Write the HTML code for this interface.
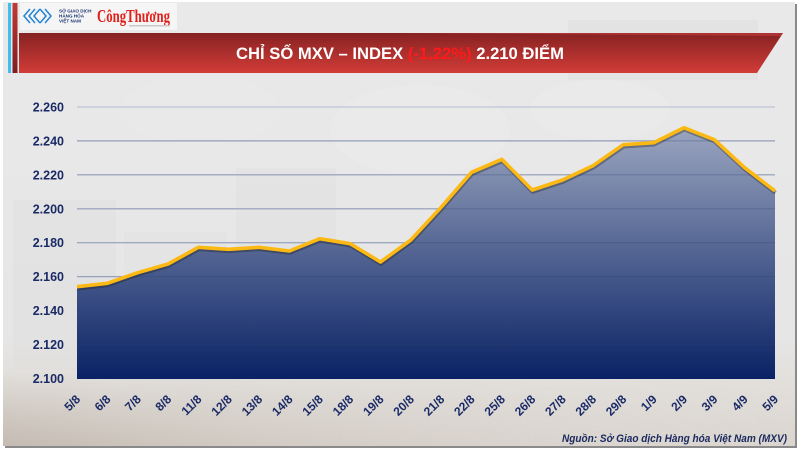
<!DOCTYPE html>
<html>
<head>
<meta charset="utf-8">
<style>
  html,body{margin:0;padding:0;background:#ffffff;}
  svg{display:block;}
  text{font-family:"Liberation Sans","DejaVu Sans",sans-serif;}
</style>
</head>
<body>
<svg width="800" height="450" viewBox="0 0 800 450" xmlns="http://www.w3.org/2000/svg">
  <defs>
    <linearGradient id="bg" x1="0" y1="0" x2="0" y2="1">
      <stop offset="0" stop-color="#e9e9e9"/>
      <stop offset="0.75" stop-color="#e6e6e6"/>
      <stop offset="0.86" stop-color="#e2dfdb"/>
      <stop offset="1" stop-color="#dbd5cf"/>
    </linearGradient>
    <linearGradient id="beans" x1="0" y1="0" x2="1" y2="0">
      <stop offset="0" stop-color="#b3a79c" stop-opacity="0.6"/>
      <stop offset="0.35" stop-color="#c6bdb4" stop-opacity="0.4"/>
      <stop offset="0.7" stop-color="#d6d2cd" stop-opacity="0.25"/>
      <stop offset="1" stop-color="#e2e2e2" stop-opacity="0"/>
    </linearGradient>
    <linearGradient id="beansV" x1="0" y1="0" x2="0" y2="1">
      <stop offset="0" stop-color="#fff" stop-opacity="0"/>
      <stop offset="1" stop-color="#fff" stop-opacity="1"/>
    </linearGradient>
    <mask id="bm"><rect x="0" y="370" width="800" height="80" fill="url(#beansV)"/></mask>
    <linearGradient id="banner" x1="0" y1="0" x2="0" y2="1">
      <stop offset="0" stop-color="#862222"/>
      <stop offset="1" stop-color="#d23c37"/>
    </linearGradient>
    <linearGradient id="redbar" x1="0" y1="0" x2="0" y2="1">
      <stop offset="0" stop-color="#c03a36"/>
      <stop offset="1" stop-color="#7e1e1e"/>
    </linearGradient>
    <linearGradient id="fill" gradientUnits="userSpaceOnUse" x1="0" y1="125" x2="0" y2="379">
      <stop offset="0" stop-color="#9ca7c0"/>
      <stop offset="1" stop-color="#0a2265"/>
    </linearGradient>
  </defs>

  <!-- card -->
  <rect x="0" y="0" width="800" height="450" fill="#ffffff"/>
  <rect x="5" y="4" width="792" height="444" fill="#8a8a8a"/>
  <rect x="3" y="2" width="792" height="444" fill="url(#bg)"/>
  <rect x="3" y="370" width="792" height="76" fill="url(#beans)" mask="url(#bm)"/>
  <!-- faint background panels / map -->
  <rect x="13" y="200" width="103" height="170" fill="#dcdcdc" opacity="0.3"/>
  <rect x="124" y="232" width="103" height="150" fill="#dadada" opacity="0.25"/>
  <rect x="236" y="168" width="100" height="120" fill="#d9d9d9" opacity="0.25"/>
  <rect x="568" y="20" width="190" height="60" fill="#dedede" opacity="0.5"/>
  <ellipse cx="420" cy="130" rx="90" ry="45" fill="#f0f0f0" opacity="0.3"/>
  <ellipse cx="600" cy="110" rx="70" ry="30" fill="#efefef" opacity="0.25"/>
  <ellipse cx="200" cy="110" rx="80" ry="35" fill="#eeeeee" opacity="0.2"/>

  <!-- left bars -->
  <rect x="8" y="3" width="3" height="70" fill="#3fc0ec"/>
  <rect x="12.5" y="3" width="5" height="70" fill="url(#redbar)"/>

  <!-- logo box -->
  <rect x="20" y="3" width="157" height="27" fill="#f5f5f5"/>
  <g fill="none" stroke="#2a86d6" stroke-width="1.6">
    <polyline points="30,9 24,16 30,23"/>
    <polyline points="35,9 29,16 35,23"/>
    <polyline points="40,9 34,16 40,23"/>
    <polyline points="40,9 46,16 40,23"/>
    <polyline points="45,9 51,16 45,23"/>
  </g>
  <g fill="#1c3370" font-size="4.6" font-weight="bold">
    <text x="59" y="12.5">SỞ GIAO DỊCH</text>
    <text x="59" y="17.5">HÀNG HÓA</text>
    <text x="59" y="22.5">VIỆT NAM</text>
  </g>
  <text x="97" y="22" font-size="18" font-weight="bold" fill="#e01f1a" textLength="73" lengthAdjust="spacingAndGlyphs" style="font-family:'Liberation Serif',serif;">CôngThương</text>
  <rect x="129" y="25" width="41" height="1.5" fill="#c9c9c9"/>

  <!-- banner -->
  <polygon points="19,33 783,33 757,73 19,73" fill="url(#banner)"/>
  <polygon points="400,33 783,33 781,36" fill="#c64040" opacity="0.6"/>
  <text x="236" y="59" font-size="17" font-weight="bold" fill="#ffffff" textLength="328" lengthAdjust="spacingAndGlyphs">CHỈ SỐ MXV – INDEX <tspan fill="#ff1a1a">(-1,22%)</tspan> 2.210 ĐIỂM</text>

  <!-- grid background lines -->
  <g stroke="#c6cbd8" stroke-width="1.5">
    <line x1="77" y1="107" x2="775" y2="107"/>
    <line x1="77" y1="140.9" x2="775" y2="140.9"/>
    <line x1="77" y1="174.8" x2="775" y2="174.8"/>
    <line x1="77" y1="208.8" x2="775" y2="208.8"/>
    <line x1="77" y1="242.7" x2="775" y2="242.7"/>
    <line x1="77" y1="276.6" x2="775" y2="276.6"/>
    <line x1="77" y1="310.5" x2="775" y2="310.5"/>
    <line x1="77" y1="344.4" x2="775" y2="344.4"/>
  </g>

  <!-- area fill -->
  <polygon fill="url(#fill)" points="77,286.7 107.35,283.3 137.7,272.7 168.04,264 198.39,247.3 228.74,249.3 259.09,247.3 289.43,251 319.78,238.7 350.13,243.7 380.48,262 410.83,240 441.17,207.2 471.52,172.3 501.87,159.3 532.22,190 562.57,180 592.91,165.7 623.26,144.7 653.61,142.7 683.96,127.7 714.3,139.7 744.65,167.7 775,191 775,379 77,379"/>

  <!-- grid lines over fill -->
  <g stroke="#2a3f78" stroke-opacity="0.28" stroke-width="1.2">
    <line x1="77" y1="140.9" x2="775" y2="140.9"/>
    <line x1="77" y1="174.8" x2="775" y2="174.8"/>
    <line x1="77" y1="208.8" x2="775" y2="208.8"/>
    <line x1="77" y1="242.7" x2="775" y2="242.7"/>
    <line x1="77" y1="276.6" x2="775" y2="276.6"/>
    <line x1="77" y1="310.5" x2="775" y2="310.5"/>
    <line x1="77" y1="344.4" x2="775" y2="344.4"/>
  </g>

  <!-- line shadow + line -->
  <polyline fill="none" stroke="#1a1a1a" stroke-opacity="0.35" stroke-width="4" stroke-linejoin="round" transform="translate(0.5,1.8)" points="77,286.7 107.35,283.3 137.7,272.7 168.04,264 198.39,247.3 228.74,249.3 259.09,247.3 289.43,251 319.78,238.7 350.13,243.7 380.48,262 410.83,240 441.17,207.2 471.52,172.3 501.87,159.3 532.22,190 562.57,180 592.91,165.7 623.26,144.7 653.61,142.7 683.96,127.7 714.3,139.7 744.65,167.7 775,191"/>
  <polyline fill="none" stroke="#fdb913" stroke-width="3.6" stroke-linejoin="round" points="77,286.7 107.35,283.3 137.7,272.7 168.04,264 198.39,247.3 228.74,249.3 259.09,247.3 289.43,251 319.78,238.7 350.13,243.7 380.48,262 410.83,240 441.17,207.2 471.52,172.3 501.87,159.3 532.22,190 562.57,180 592.91,165.7 623.26,144.7 653.61,142.7 683.96,127.7 714.3,139.7 744.65,167.7 775,191"/>

  <!-- y labels -->
  <g fill="#1a2a66" font-size="12.5" font-weight="bold" text-anchor="end">
    <text x="64" y="111.5">2.260</text>
    <text x="64" y="145.4">2.240</text>
    <text x="64" y="179.3">2.220</text>
    <text x="64" y="213.3">2.200</text>
    <text x="64" y="247.2">2.180</text>
    <text x="64" y="281.1">2.160</text>
    <text x="64" y="315">2.140</text>
    <text x="64" y="348.9">2.120</text>
    <text x="64" y="382.9">2.100</text>
  </g>

  <!-- x labels -->
  <g fill="#1a2a66" font-size="12" font-weight="bold" text-anchor="end">
    <text transform="translate(81,400) rotate(-45)">5/8</text>
    <text transform="translate(111.35,400) rotate(-45)">6/8</text>
    <text transform="translate(141.7,400) rotate(-45)">7/8</text>
    <text transform="translate(172.04,400) rotate(-45)">8/8</text>
    <text transform="translate(202.39,400) rotate(-45)">11/8</text>
    <text transform="translate(232.74,400) rotate(-45)">12/8</text>
    <text transform="translate(263.09,400) rotate(-45)">13/8</text>
    <text transform="translate(293.43,400) rotate(-45)">14/8</text>
    <text transform="translate(323.78,400) rotate(-45)">15/8</text>
    <text transform="translate(354.13,400) rotate(-45)">18/8</text>
    <text transform="translate(384.48,400) rotate(-45)">19/8</text>
    <text transform="translate(414.83,400) rotate(-45)">20/8</text>
    <text transform="translate(445.17,400) rotate(-45)">21/8</text>
    <text transform="translate(475.52,400) rotate(-45)">22/8</text>
    <text transform="translate(505.87,400) rotate(-45)">25/8</text>
    <text transform="translate(536.22,400) rotate(-45)">26/8</text>
    <text transform="translate(566.57,400) rotate(-45)">27/8</text>
    <text transform="translate(596.91,400) rotate(-45)">28/8</text>
    <text transform="translate(627.26,400) rotate(-45)">29/8</text>
    <text transform="translate(657.61,400) rotate(-45)">1/9</text>
    <text transform="translate(687.96,400) rotate(-45)">2/9</text>
    <text transform="translate(718.3,400) rotate(-45)">3/9</text>
    <text transform="translate(748.65,400) rotate(-45)">4/9</text>
    <text transform="translate(779,400) rotate(-45)">5/9</text>
  </g>

  <!-- source -->
  <text x="562" y="442" font-size="11" font-style="italic" font-weight="bold" fill="#1b2a60" textLength="225" lengthAdjust="spacingAndGlyphs">Nguồn: Sở Giao dịch Hàng hóa Việt Nam (MXV)</text>
</svg>
</body>
</html>
